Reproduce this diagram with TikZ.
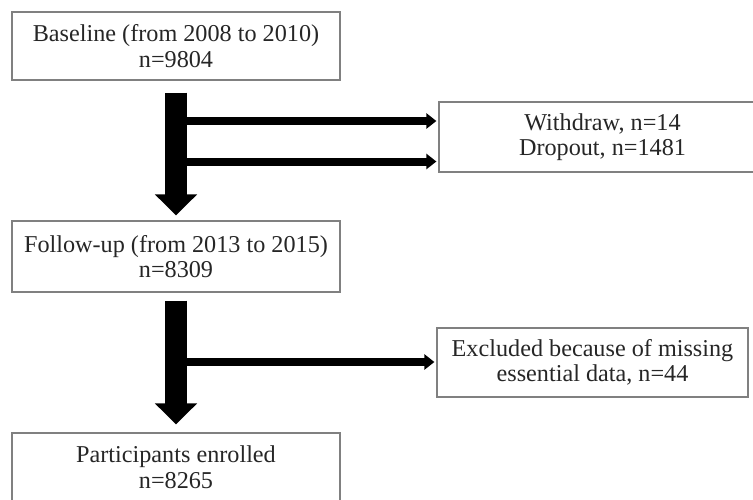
\documentclass[tikz,border=0pt]{standalone}
\usepackage{fontspec}
\setmainfont{Liberation Serif}
\usetikzlibrary{arrows.meta,positioning}
\tikzset{
  box/.style={draw=gray, line width=1.2pt, text=black!85, align=center, inner sep=0pt,
    font=\fontsize{24.2}{25.6}\selectfont},
  bigarrow/.style={line width=22pt, -{Triangle[width=41pt,length=21pt]}},
  sidearrow/.style={line width=8pt, -{Triangle[width=15pt,length=10pt]}, shorten >=2pt}
}
\begin{document}
\begin{tikzpicture}[x=1pt,y=-1pt]
            \useasboundingbox (0,0) rectangle (753,499);
            %riquadri
            \node[box, minimum width=328pt, minimum height=68pt] (base) at (176,46) {Baseline (from 2008 to 2010)\\n=9804};
            \node[box, minimum width=328pt, minimum height=71pt] (follow) at (176,256.5) {Follow-up (from 2013 to 2015)\\n=8309};
            \node[box, minimum width=328pt, minimum height=69pt] (enrol) at (176,467.5) {Participants enrolled\\n=8265};
            \node[box, minimum width=327pt, minimum height=70pt] (lost) at (602.5,137) {Withdraw, n=14\\Dropout, n=1481};
            \node[box, minimum width=311pt, minimum height=69pt] (excl) at (592.5,362.5) {Excluded because of missing\\essential data, n=44};
            %frecce
            \draw[bigarrow, shorten <=12pt, shorten >=5pt] (base.south) -- (follow.north);
            \draw[bigarrow, shorten <=8pt, shorten >=8pt] (follow.south) -- (enrol.north);
            \coordinate (wd) at (186,121);
            \coordinate (dp) at (186,161.5);
            \coordinate (ex) at (186,362);
            \draw[sidearrow] (wd) -- (wd -| lost.west);
            \draw[sidearrow] (dp) -- (dp -| lost.west);
            \draw[sidearrow] (ex) -- (ex -| excl.west);
\end{tikzpicture}
\end{document}
